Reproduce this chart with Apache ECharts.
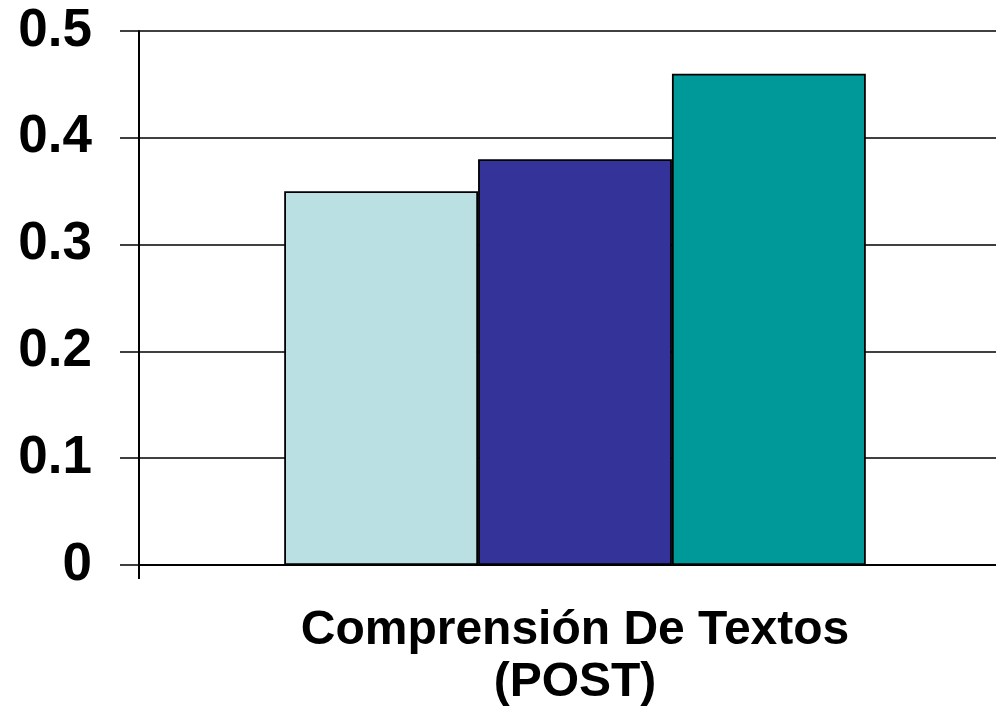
<!DOCTYPE html>
<html>
<head>
<meta charset="utf-8">
<script src="https://cdn.jsdelivr.net/npm/echarts@6/dist/echarts.min.js"></script>
<style>
html,body{margin:0;padding:0;background:#fff;}
#main{width:996px;height:709px;}
</style>
</head>
<body>
<div id="main"></div>
<script>
const categories = ['Comprensión De Textos\n(POST)'];
const seriesNames = ['Serie 1', 'Serie 2', 'Serie 3'];
const values1 = [0.35];
const values2 = [0.38];
const values3 = [0.46];
const yTicks = { min: 0, max: 0.5, interval: 0.1 };
const colors = ['#BAE0E3', '#333399', '#009999'];

const chart = echarts.init(document.getElementById('main'), null, { renderer: 'canvas' });
const barStyle = (c) => ({ color: c, borderColor: '#000', borderWidth: 1.8 });
chart.setOption({
  animation: false,
  grid: { left: 139, right: -15, top: 31, bottom: 144, containLabel: false, outerBoundsMode: 'none' },
  xAxis: {
    type: 'category',
    data: categories,
    axisLine: { show: true, lineStyle: { color: '#000', width: 2 } },
    axisTick: { show: true, length: 14, lineStyle: { color: '#000', width: 2 } },
    axisLabel: {
      margin: 40,
      fontFamily: '"Liberation Sans", Arial, sans-serif',
      fontWeight: 'bold',
      fontSize: 48,
      lineHeight: 52,
      color: '#000'
    }
  },
  yAxis: {
    type: 'value',
    min: yTicks.min,
    max: yTicks.max,
    interval: yTicks.interval,
    axisLine: { show: true, lineStyle: { color: '#000', width: 2 } },
    axisTick: { show: true, length: 19, lineStyle: { color: '#000', width: 1.5 } },
    splitLine: { show: true, lineStyle: { color: '#000', width: 1.5 } },
    axisLabel: {
      margin: 47,
      fontFamily: '"Liberation Sans", Arial, sans-serif',
      fontWeight: 'bold',
      fontSize: 53,
      color: '#000'
    }
  },
  series: [
    { name: seriesNames[0], type: 'bar', data: values1, barGap: '0%', barCategoryGap: '33.3%', itemStyle: barStyle(colors[0]) },
    { name: seriesNames[1], type: 'bar', data: values2, barGap: '0%', barCategoryGap: '33.3%', itemStyle: barStyle(colors[1]) },
    { name: seriesNames[2], type: 'bar', data: values3, barGap: '0%', barCategoryGap: '33.3%', itemStyle: barStyle(colors[2]) }
  ]
});
</script>
</body>
</html>
